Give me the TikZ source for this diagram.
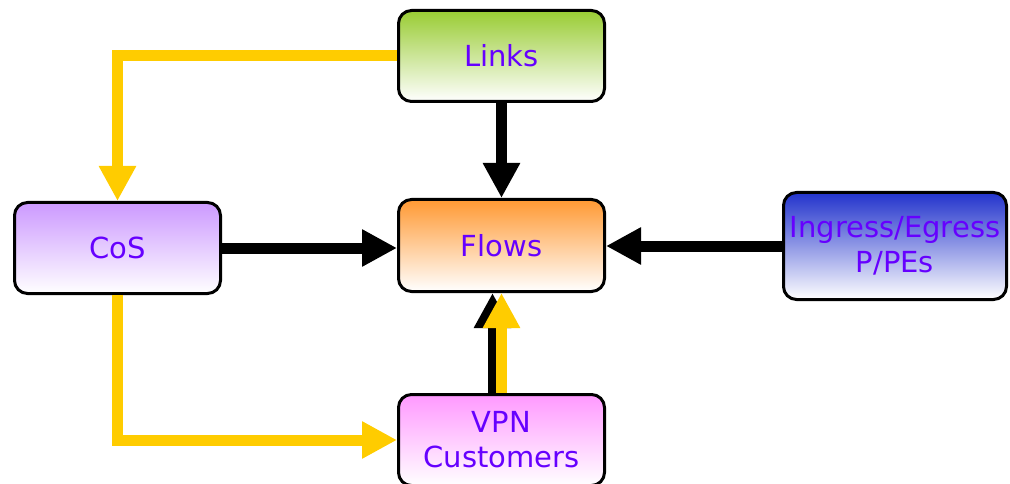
\documentclass[tikz,border=0pt]{standalone}
\usepackage{fontspec}
\setmainfont{DejaVu Sans}
\usetikzlibrary{arrows.meta}
\definecolor{txt}{RGB}{102,0,255}
\definecolor{yel}{RGB}{255,204,0}
\definecolor{cgreen}{RGB}{153,204,51}
\definecolor{corange}{RGB}{255,153,51}
\definecolor{cpurple}{RGB}{204,153,255}
\definecolor{cblue}{RGB}{34,51,204}
\definecolor{cpink}{RGB}{255,153,255}
\tikzset{
  box/.style={draw=black, line width=3pt, rounded corners=13pt, bottom color=white,
    inner sep=0pt, align=center, text=txt, font=\fontsize{29}{35}\selectfont,
    minimum width=206pt, minimum height=91pt},
  blk/.style={draw=black, line width=11pt, -{Triangle[length=35pt,width=35pt]}},
  ylw/.style={draw=yel, line width=11pt, -{Triangle[length=35pt,width=35pt]}},
}
\begin{document}
\begin{tikzpicture}[x=1pt,y=-1pt]
\useasboundingbox (0,0) rectangle (1010,484);
\node[box, top color=cgreen] (links) at (501.5,56) {Links};
\node[box, top color=corange, minimum height=92pt] (flows) at (501.5,245.5) {Flows};
\node[box, top color=cpurple] (cos) at (117.5,248) {CoS};
\node[box, top color=cblue, minimum width=223pt, minimum height=107pt] (ing) at (895,246) {Ingress/Egress\\P/PEs};
\node[box, top color=cpink] (vpn) at (501.5,440) {VPN\\Customers};
\draw[blk] (links.south) -- (flows.north);
\draw[blk] (cos.east) -- (flows.west |- cos.east);
\draw[blk] (ing.west) -- (flows.east |- ing.west);
\draw[blk, line width=10pt] ([xshift=-9pt]vpn.north) -- ([xshift=-9pt]flows.south);
\draw[ylw] (vpn.north) -- (flows.south);
\draw[ylw] (links.west) -| (cos.north);
\draw[ylw] (cos.south) |- (vpn.west);
\end{tikzpicture}
\end{document}
